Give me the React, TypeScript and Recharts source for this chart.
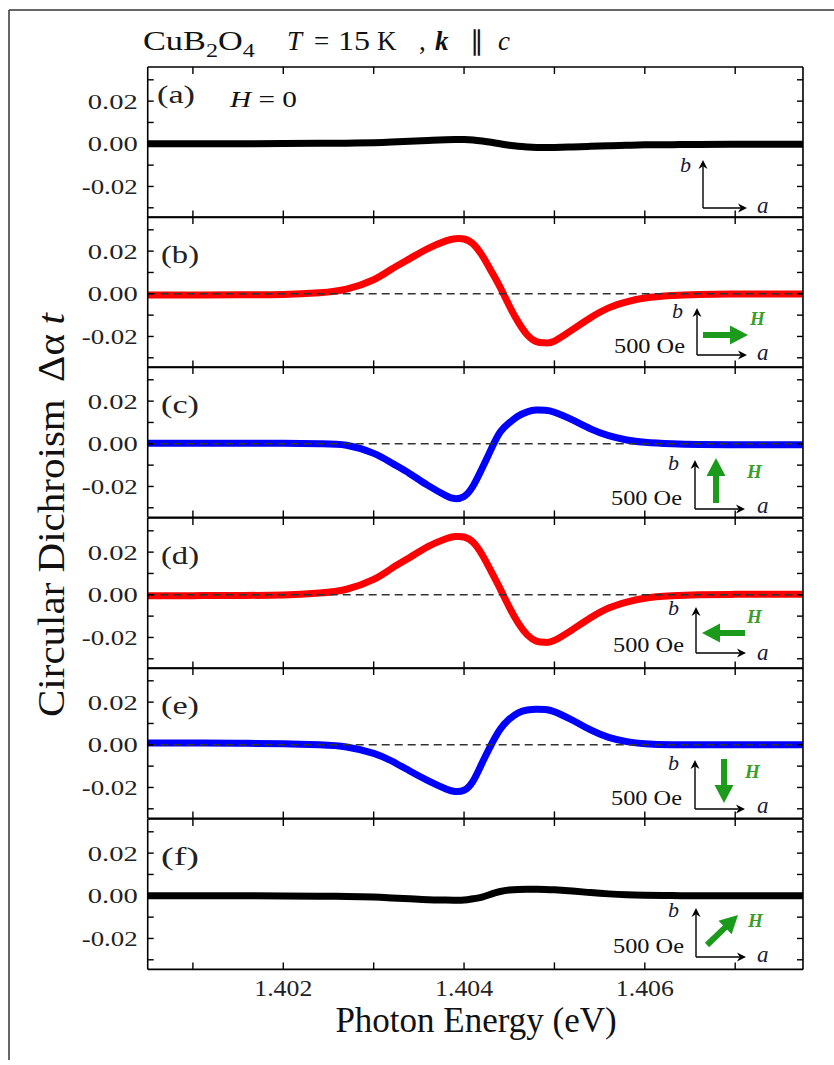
import React from 'react';
import { LineChart, Line, XAxis, YAxis, ReferenceLine } from 'recharts';

// ---------------- data ----------------
const energies = [
  1.4005, 1.401, 1.4015, 1.402, 1.4024, 1.4027, 1.403, 1.4032, 1.4034, 1.4036, 1.4038,
  1.4039, 1.404, 1.4041, 1.4042, 1.4043, 1.4044, 1.4045, 1.4046, 1.4047, 1.4048, 1.4049,
  1.405, 1.4052, 1.4054, 1.4056, 1.4058, 1.406, 1.4063, 1.4066, 1.407, 1.4074, 1.40775,
];
const cdA = [0, 0, 0, 0.0001, 0.0002, 0.0003, 0.0005, 0.0008, 0.0012, 0.0016, 0.0019, 0.002, 0.002, 0.0018, 0.0013, 0.0007, 0, -0.0007, -0.0012, -0.0015, -0.0017, -0.0017, -0.0017, -0.0015, -0.0012, -0.0009, -0.0007, -0.0005, -0.0004, -0.0003, -0.0002, -0.0002, -0.0002];
const cdB = [-0.0006, -0.0006, -0.0005, -0.0003, 0.0005, 0.0022, 0.0066, 0.0116, 0.0165, 0.0212, 0.0248, 0.0258, 0.0257, 0.0234, 0.018, 0.0107, 0.003, -0.0056, -0.0133, -0.0193, -0.0224, -0.023, -0.0222, -0.0168, -0.0112, -0.0066, -0.0038, -0.002, -0.0008, -0.0003, -0.0001, -0.0001, -0.0001];
const cdC = [0.0003, 0.0003, 0.0003, 0.0002, 0, -0.0007, -0.0045, -0.009, -0.014, -0.0195, -0.0243, -0.0257, -0.0247, -0.0198, -0.0115, -0.0025, 0.0055, 0.0098, 0.013, 0.015, 0.0158, 0.0157, 0.0148, 0.0112, 0.007, 0.0038, 0.0018, 0.0007, 0, -0.0003, -0.0004, -0.0004, -0.0004];
const cdD = [-0.0004, -0.0004, -0.0003, -0.0001, 0.0008, 0.0026, 0.0072, 0.0124, 0.0175, 0.0226, 0.0263, 0.0273, 0.0271, 0.0246, 0.0188, 0.011, 0.0028, -0.0058, -0.0133, -0.0188, -0.0217, -0.0223, -0.0214, -0.0163, -0.0108, -0.0062, -0.0034, -0.0016, -0.0005, 0, 0.0002, 0.0002, 0.0002];
const cdE = [0.0008, 0.0008, 0.0007, 0.0005, 0, -0.001, -0.004, -0.0076, -0.0123, -0.0168, -0.0207, -0.0219, -0.0213, -0.017, -0.0085, 0, 0.0073, 0.012, 0.015, 0.0163, 0.0167, 0.0165, 0.0155, 0.0115, 0.007, 0.0035, 0.0015, 0.0005, 0, 0, 0, 0, 0];
const cdF = [0, 0, 0, -0.0001, -0.0002, -0.0003, -0.0006, -0.001, -0.0014, -0.0018, -0.002, -0.0021, -0.002, -0.0014, -0.0006, 0.0008, 0.002, 0.0027, 0.003, 0.0031, 0.0031, 0.003, 0.0028, 0.0022, 0.0015, 0.0009, 0.0005, 0.0003, 0.0001, 0, 0, 0, 0];

const panelLabels = ['(a)', '(b)', '(c)', '(d)', '(e)', '(f)'];
const panelColors = ['#000000', '#ff0000', '#0000ff', '#ff0000', '#0000ff', '#000000'];
const panelZeroLine = [false, true, true, true, true, false];
const series = [cdA, cdB, cdC, cdD, cdE, cdF];
const xTicks = [1.401, 1.402, 1.403, 1.404, 1.405, 1.406, 1.407];
const xLabelTicks = [1.402, 1.404, 1.406];
const yTicks = [-0.03, -0.02, -0.01, 0, 0.01, 0.02, 0.03];
const yLabelTicks = [-0.02, 0, 0.02];

// ---------------- layout ----------------
const PAGE_W = 834;
const PLOT_LEFT = 147.7;
const PLOT_RIGHT = 803;
const PANEL_TOP = 66.5;
const PANEL_H = 150.4;
const PAD = 6;
const BOTTOM_EXTRA = 40;
const X_DOMAIN: [number, number] = [1.4005, 1.40775];
const Y_DOMAIN: [number, number] = [-0.0345, 0.036];
const SERIF = '"Liberation Serif", "Times New Roman", Times, serif';

const isIn = (arr: number[], v: number) => arr.some((t) => Math.abs(t - v) < 1e-9);

function BottomTick(props: any) {
  const { x, y, payload, showLabel } = props;
  const v = payload.value;
  return (
    <g>
      <line x1={x} y1={y} x2={x} y2={y - 7} stroke="#000" strokeWidth={1.4} />
      {showLabel && isIn(xLabelTicks, v) && (
        <text x={x} y={y + 27} textAnchor="middle" fontFamily={SERIF} fontSize={23} fill="#222"
          textLength={58} lengthAdjust="spacingAndGlyphs">{v.toFixed(3)}</text>
      )}
    </g>
  );
}
function TopTick(props: any) {
  const { x, y } = props;
  return <line x1={x} y1={y} x2={x} y2={y + 7} stroke="#000" strokeWidth={1.4} />;
}
function LeftTick(props: any) {
  const { x, y, payload } = props;
  const v = payload.value;
  const lbl = Math.abs(v) < 1e-9 ? '0.00' : v.toFixed(2);
  return (
    <g>
      <line x1={x} y1={y} x2={x + 6} y2={y} stroke="#000" strokeWidth={1.4} />
      {isIn(yLabelTicks, v) && (
        <text x={x - 10} y={y} dy="0.35em" textAnchor="end" fontFamily={SERIF} fontSize={22} fill="#222"
          textLength={lbl.length === 5 ? 56 : 50} lengthAdjust="spacingAndGlyphs">{lbl}</text>
      )}
    </g>
  );
}
function RightTick(props: any) {
  const { x, y } = props;
  return <line x1={x} y1={y} x2={x - 6} y2={y} stroke="#000" strokeWidth={1.4} />;
}

function Panel({ idx }: { idx: number }) {
  const isLast = idx === 5;
  const data = energies.map((e, j) => ({ e, v: series[idx][j] }));
  const top = PANEL_TOP + idx * PANEL_H - PAD;
  const height = PANEL_H + 2 * PAD + (isLast ? BOTTOM_EXTRA : 0);
  const axisLine = { stroke: '#000', strokeWidth: 1.6 };
  return (
    <div style={{ position: 'absolute', left: 0, top, width: PAGE_W, height }}>
      <LineChart width={PAGE_W} height={height} data={data}
        margin={{ top: PAD - 1, right: PAGE_W - PLOT_RIGHT - 1, bottom: PAD - 1 + (isLast ? BOTTOM_EXTRA : 0), left: PLOT_LEFT - 1 }}>
        <XAxis dataKey="e" type="number" domain={X_DOMAIN} ticks={xTicks} allowDataOverflow interval={0}
          height={1} tickSize={0} tickMargin={0} tickLine={false} axisLine={axisLine}
          tick={(p: any) => <BottomTick {...p} showLabel={isLast} />} />
        <XAxis xAxisId="top" orientation="top" dataKey="e" type="number" domain={X_DOMAIN} ticks={xTicks}
          allowDataOverflow interval={0} height={1} tickSize={0} tickMargin={0} tickLine={false} axisLine={axisLine}
          tick={(p: any) => <TopTick {...p} />} />
        <YAxis type="number" domain={Y_DOMAIN} ticks={yTicks} allowDataOverflow interval={0} width={1}
          tickSize={0} tickMargin={0} tickLine={false} axisLine={axisLine}
          tick={(p: any) => <LeftTick {...p} />} />
        <YAxis yAxisId="right" orientation="right" type="number" domain={Y_DOMAIN} ticks={yTicks} allowDataOverflow
          interval={0} width={1} tickSize={0} tickMargin={0} tickLine={false} axisLine={axisLine}
          tick={(p: any) => <RightTick {...p} />} />
        <Line type="natural" dataKey="v" stroke={panelColors[idx]} strokeWidth={7} dot={false}
          activeDot={false} strokeLinejoin="round" isAnimationActive={false} />
        {panelZeroLine[idx] && (
          <ReferenceLine y={0} stroke="#333" strokeWidth={1.5} strokeDasharray="8 5" />
        )}
      </LineChart>
    </div>
  );
}

// -------- annotation helpers (inset axes, field arrows) --------
const GREEN = '#1c9a1c';
function ThinArrow({ x1, y1, x2, y2 }: any) {
  const dx = x2 - x1, dy = y2 - y1;
  const L = Math.hypot(dx, dy);
  const ux = dx / L, uy = dy / L, px = -uy, py = ux;
  const hl = 9, hw = 4.5;
  const bx = x2 - ux * hl, by = y2 - uy * hl;
  const nx = x2 - ux * hl * 0.7, ny = y2 - uy * hl * 0.7;
  return (
    <g>
      <line x1={x1} y1={y1} x2={nx} y2={ny} stroke="#000" strokeWidth={1.4} />
      <polygon points={`${x2},${y2} ${bx + px * hw},${by + py * hw} ${nx},${ny} ${bx - px * hw},${by - py * hw}`} fill="#000" />
    </g>
  );
}
function FieldArrow({ x1, y1, x2, y2 }: any) {
  const dx = x2 - x1, dy = y2 - y1;
  const L = Math.hypot(dx, dy);
  const ux = dx / L, uy = dy / L, px = -uy, py = ux;
  const hl = 18, hw = 9.5;
  const bx = x2 - ux * hl, by = y2 - uy * hl;
  return (
    <g>
      <line x1={x1} y1={y1} x2={bx + ux} y2={by + uy} stroke={GREEN} strokeWidth={6} />
      <polygon points={`${x2},${y2} ${bx + px * hw},${by + py * hw} ${bx - px * hw},${by - py * hw}`} fill={GREEN} />
    </g>
  );
}

const insets = [
  { cx: 703, cy: 208, tip: 160, end: 747, b: [680, 172], a: [757, 213], oe: null, arrow: null, H: null },
  { cx: 697, cy: 355, tip: 308, end: 747, b: [672, 318], a: [757, 360], oe: [685, 353], arrow: [703, 335, 748, 335], H: [750, 325] },
  { cx: 695, cy: 509, tip: 460, end: 745, b: [668, 470], a: [757, 513], oe: [682, 505], arrow: [716, 503, 716, 458], H: [747, 478] },
  { cx: 696, cy: 653, tip: 607, end: 746, b: [668, 615], a: [757, 660], oe: [684, 652], arrow: [745, 633, 702, 633], H: [747, 623] },
  { cx: 695, cy: 809, tip: 760, end: 745, b: [668, 770], a: [757, 813], oe: [682, 805], arrow: [724, 759, 724, 803], H: [745, 778] },
  { cx: 696, cy: 957, tip: 908, end: 746, b: [668, 917], a: [757, 962], oe: [684, 953], arrow: [707, 945, 738, 915], H: [748, 927] },
];

function Overlay() {
  return (
    <svg width={PAGE_W} height={1060} style={{ position: 'absolute', left: 0, top: 0, pointerEvents: 'none' }}>
      {/* page frame */}
      <line x1={9} y1={10} x2={PAGE_W} y2={10} stroke="#333" strokeWidth={1.5} />
      <line x1={9} y1={10} x2={9} y2={1060} stroke="#333" strokeWidth={1.5} />

      {/* title */}
      <g transform="translate(143,50) scale(1.27,1)">
        <text x={0} y={0} fontFamily={SERIF} fontSize={27} fill="#111">
          CuB<tspan dy={7} fontSize={19}>2</tspan><tspan dy={-7}>O</tspan><tspan dy={7} fontSize={19}>4</tspan>
        </text>
      </g>
      <text x={287} y={50} fontFamily={SERIF} fontSize={27} fill="#111" fontStyle="italic">T</text>
      <text x={314} y={50} fontFamily={SERIF} fontSize={27} fill="#111">=</text>
      <text x={338} y={50} fontFamily={SERIF} fontSize={27} fill="#111" textLength={32} lengthAdjust="spacingAndGlyphs">15</text>
      <text x={377} y={50} fontFamily={SERIF} fontSize={27} fill="#111">K</text>
      <text x={419} y={50} fontFamily={SERIF} fontSize={27} fill="#111">,</text>
      <text x={435} y={50} fontFamily={SERIF} fontSize={27} fill="#111" fontStyle="italic" fontWeight="bold">k</text>
      <text x={470} y={50} fontFamily={SERIF} fontSize={27} fill="#111">∥</text>
      <text x={498} y={50} fontFamily={SERIF} fontSize={27} fill="#111" fontStyle="italic">c</text>

      {/* y axis title */}
      <text transform="translate(64,515) rotate(-90)" textAnchor="middle" fontFamily={SERIF} fontSize={38} fill="#111"
        textLength={404} lengthAdjust="spacingAndGlyphs">
        Circular Dichroism<tspan dx={16}>Δα</tspan><tspan dx={9} fontStyle="italic">t</tspan>
      </text>
      {/* x axis title */}
      <text x={476} y={1032} textAnchor="middle" fontFamily={SERIF} fontSize={35} fill="#111">Photon Energy (eV)</text>

      {/* panel labels */}
      {panelLabels.map((l, i) => (
        <text key={l} x={i === 0 ? 157 : 161} y={i === 0 ? 103 : PANEL_TOP + i * PANEL_H + 46}
          fontFamily={SERIF} fontSize={25} fill="#222" textLength={38} lengthAdjust="spacingAndGlyphs">{l}</text>
      ))}
      <text x={230} y={107} fontFamily={SERIF} fontSize={23} fill="#111" textLength={67} lengthAdjust="spacingAndGlyphs">
        <tspan fontStyle="italic">H</tspan> = 0
      </text>

      {/* insets */}
      {insets.map((s, i) => (
        <g key={i}>
          <ThinArrow x1={s.cx} y1={s.cy} x2={s.cx} y2={s.tip} />
          <ThinArrow x1={s.cx} y1={s.cy} x2={s.end} y2={s.cy} />
          <text x={s.b[0]} y={s.b[1]} fontFamily={SERIF} fontSize={22} fontStyle="italic" fill="#1a1a33">b</text>
          <text x={s.a[0]} y={s.a[1]} fontFamily={SERIF} fontSize={23} fontStyle="italic" fill="#1a1a33">a</text>
          {s.oe && (
            <text x={s.oe[0]} y={s.oe[1]} textAnchor="end" fontFamily={SERIF} fontSize={21} fill="#111"
              textLength={71} lengthAdjust="spacingAndGlyphs">500 Oe</text>
          )}
          {s.arrow && <FieldArrow x1={s.arrow[0]} y1={s.arrow[1]} x2={s.arrow[2]} y2={s.arrow[3]} />}
          {s.H && (
            <text x={s.H[0]} y={s.H[1]} fontFamily={SERIF} fontSize={19} fontStyle="italic" fontWeight="bold" fill="#3a9e2a">H</text>
          )}
        </g>
      ))}
    </svg>
  );
}

export default function App() {
  return (
    <div style={{ position: 'absolute', left: 0, top: 0, width: PAGE_W, height: 1060, background: '#fff', overflow: 'hidden' }}>
      {[0, 1, 2, 3, 4, 5].map((i) => <Panel key={i} idx={i} />)}
      <Overlay />
    </div>
  );
}
